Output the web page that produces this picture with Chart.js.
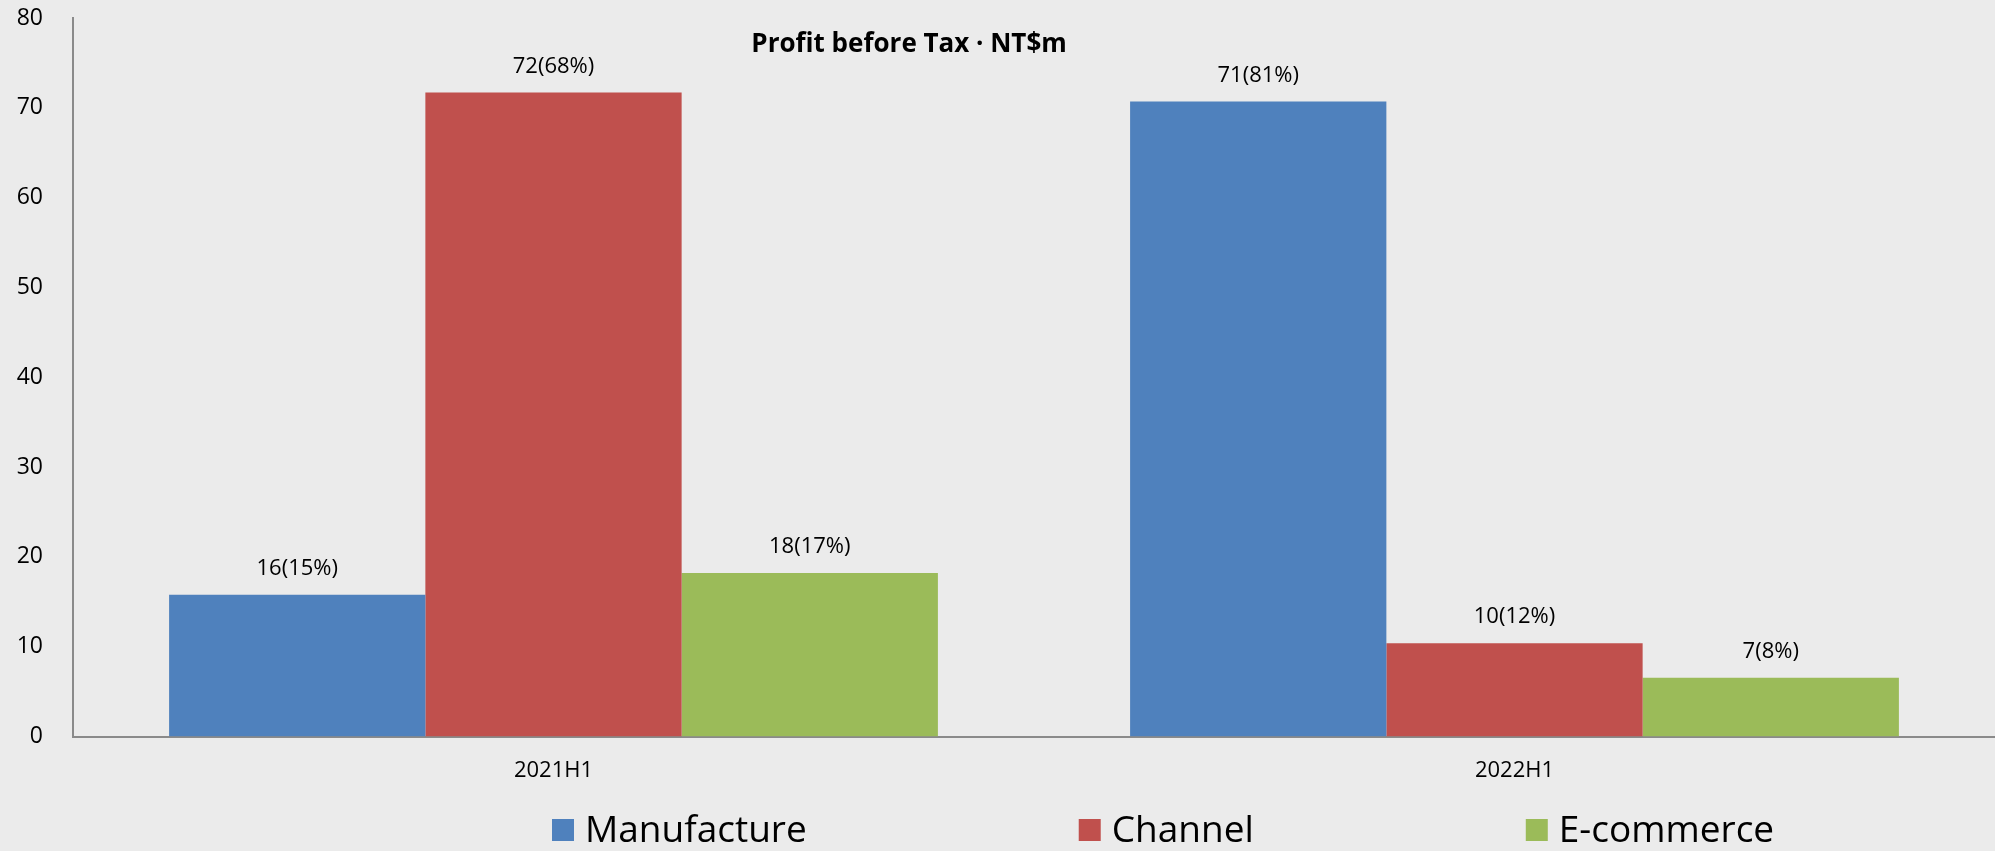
<!DOCTYPE html>
<html>
<head>
<meta charset="utf-8">
<script src="https://cdn.jsdelivr.net/npm/chart.js@4/dist/chart.umd.min.js"></script>
<style>
  html, body { margin: 0; padding: 0; background: #ebebeb; }
  #wrap { width: 1995px; height: 851px; position: relative; }
</style>
</head>
<body>
<div id="wrap"><canvas id="myChart"></canvas></div>
<script>
// dati
var categories = ['2021H1', '2022H1'];
var seriesNames = ['Manufacture', 'Channel', 'E-commerce'];
var manufacture = [15.8, 70.7];
var channel = [71.7, 10.4];
var ecommerce = [18.2, 6.55];
var manufactureLabels = ['16(15%)', '71(81%)'];
var channelLabels = ['72(68%)', '10(12%)'];
var ecommerceLabels = ['18(17%)', '7(8%)'];
var yTicks = [0, 10, 20, 30, 40, 50, 60, 70, 80];
var title = 'Profit before Tax \u00b7 NT$m';

var FONT = '"Open Sans", "Noto Sans", sans-serif';

// etichette sopra le barre + titolo + legenda disegnati a mano
var extras = {
    id: 'extras',
    afterDatasetsDraw: function (chart) {
        var ctx = chart.ctx;
        var area = chart.chartArea;
        ctx.save();
        ctx.fillStyle = '#000';
        ctx.textAlign = 'center';
        ctx.textBaseline = 'middle';
        ctx.font = '22px ' + FONT;
        chart.data.datasets.forEach(function (ds, i) {
            chart.getDatasetMeta(i).data.forEach(function (bar, j) {
                ctx.fillText(ds.valueLabels[j], bar.x, bar.y - 26);
            });
        });

        // titolo
        ctx.font = 'bold 26px ' + FONT;
        ctx.fillText(title, area.left + (area.right - area.left) * 0.435, 45);

        // legenda
        ctx.font = '37px ' + FONT;
        ctx.textAlign = 'left';
        var x = 552;
        var y = 830;
        chart.data.datasets.forEach(function (ds) {
            ctx.fillStyle = ds.backgroundColor;
            ctx.fillRect(x, y - 11, 22, 22);
            ctx.fillStyle = '#000';
            ctx.fillText(ds.label, x + 33, y + 1);
            x += 33 + ctx.measureText(ds.label).width + 272;
        });
        ctx.restore();
    }
};

var ctx = document.getElementById('myChart');
var myChart = new Chart(ctx, {
    type: 'bar',
    data: {
        labels: categories,
        datasets: [{
            label: seriesNames[0],
            data: manufacture,
            valueLabels: manufactureLabels,
            backgroundColor: '#4f81bd'
        }, {
            label: seriesNames[1],
            data: channel,
            valueLabels: channelLabels,
            backgroundColor: '#c0504d'
        }, {
            label: seriesNames[2],
            data: ecommerce,
            valueLabels: ecommerceLabels,
            backgroundColor: '#9bbb59'
        }]
    },
    plugins: [extras],
    options: {
        responsive: true,
        maintainAspectRatio: false,
        animation: false,
        datasets: {
            bar: { categoryPercentage: 0.8, barPercentage: 1.0 }
        },
        layout: {
            padding: { left: 0, right: 0, top: 18, bottom: 46 }
        },
        plugins: {
            legend: { display: false },
            title: { display: false },
            tooltip: { enabled: false }
        },
        scales: {
            x: {
                grid: { display: false, drawTicks: false },
                border: { color: '#8a8a8a', width: 2 },
                ticks: { color: '#000', padding: 21, font: { family: FONT, size: 22 } }
            },
            y: {
                min: 0,
                max: 80,
                afterBuildTicks: function (scale) {
                    scale.ticks = yTicks.map(function (v) { return { value: v }; });
                },
                afterFit: function (scale) {
                    scale.width = 73;
                    scale.paddingTop = 0;
                    scale.paddingBottom = 0;
                },
                grid: { display: false, drawTicks: false },
                border: { color: '#8a8a8a', width: 2 },
                ticks: { color: '#000', padding: 30, font: { family: FONT, size: 23 } }
            }
        }
    }
});
</script>
</body>
</html>
